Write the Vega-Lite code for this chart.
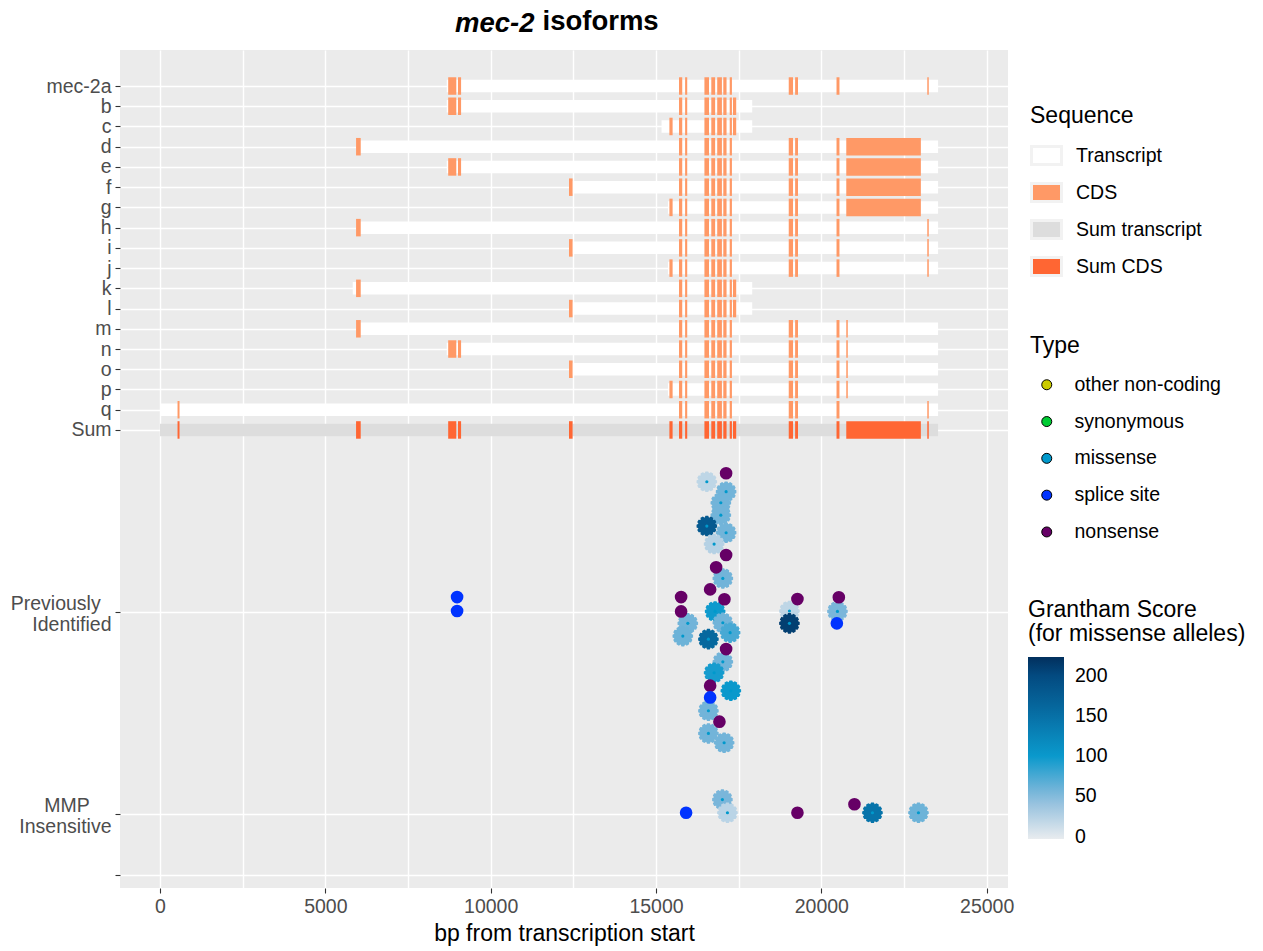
{
  "$schema": "https://vega.github.io/schema/vega-lite/v6.json",
  "width": 888,
  "height": 838,
  "autosize": {"type": "none"},
  "padding": {"left": 120, "top": 50, "right": 255, "bottom": 63},
  "background": "white",
  "config": {
    "font": "Liberation Sans",
    "view": {"fill": "#EBEBEB", "stroke": null},
    "axis": {
      "gridColor": "white", "gridWidth": 1.4, "gridOpacity": 1, "domain": false,
      "tickColor": "#333333", "tickSize": 5, "tickWidth": 1.1,
      "labelColor": "#4D4D4D", "labelFont": "Liberation Sans", "labelFontSize": 19.5,
      "titleFont": "Liberation Sans", "titleFontWeight": "normal", "titleColor": "black", "titleFontSize": 23
    },
    "legend": {
      "orient": "none", "padding": 0,
      "titleFont": "Liberation Sans", "titleFontSize": 23, "titleFontWeight": "normal", "titleColor": "black", "titleLimit": 400,
      "labelFont": "Liberation Sans", "labelFontSize": 19.5, "labelColor": "black", "labelLimit": 300
    }
  },
  "title": {
    "text": "mec-2",
    "anchor": "start", "frame": "group", "dx": 335, "offset": -52, "baseline": "alphabetic",
    "font": "Liberation Sans", "fontSize": 27.5, "fontStyle": "italic", "fontWeight": "bold", "color": "black"
  },
  "datasets": {
    "tx": [
      {"y": 1, "x": 8672, "e": 23530, "t": "Transcript"},
      {"y": 2, "x": 8672, "e": 17910, "t": "Transcript"},
      {"y": 3, "x": 15167, "e": 17910, "t": "Transcript"},
      {"y": 4, "x": 5929, "e": 23530, "t": "Transcript"},
      {"y": 5, "x": 8672, "e": 23530, "t": "Transcript"},
      {"y": 6, "x": 12368, "e": 23530, "t": "Transcript"},
      {"y": 7, "x": 15360, "e": 23530, "t": "Transcript"},
      {"y": 8, "x": 5929, "e": 23530, "t": "Transcript"},
      {"y": 9, "x": 12368, "e": 23530, "t": "Transcript"},
      {"y": 10, "x": 15360, "e": 23530, "t": "Transcript"},
      {"y": 11, "x": 5828, "e": 17910, "t": "Transcript"},
      {"y": 12, "x": 12368, "e": 17910, "t": "Transcript"},
      {"y": 13, "x": 5929, "e": 23530, "t": "Transcript"},
      {"y": 14, "x": 8672, "e": 23530, "t": "Transcript"},
      {"y": 15, "x": 12368, "e": 23530, "t": "Transcript"},
      {"y": 16, "x": 15360, "e": 23530, "t": "Transcript"},
      {"y": 17, "x": 0, "e": 23530, "t": "Transcript"},
      {"y": 18, "x": 0, "e": 23530, "t": "Sum transcript"}
    ],
    "cds": [
      {"y":1,"x":8715,"e":8960,"t":"CDS"},{"y":1,"x":9012,"e":9105,"t":"CDS"},
      {"y":1,"x":15696,"e":15793,"t":"CDS"},{"y":1,"x":15880,"e":15944,"t":"CDS"},{"y":1,"x":16464,"e":16603,"t":"CDS"},{"y":1,"x":16672,"e":16788,"t":"CDS"},{"y":1,"x":16851,"e":16993,"t":"CDS"},{"y":1,"x":17035,"e":17133,"t":"CDS"},{"y":1,"x":17229,"e":17296,"t":"CDS"},
      {"y":1,"x":19014,"e":19144,"t":"CDS"},{"y":1,"x":19207,"e":19295,"t":"CDS"},{"y":1,"x":20459,"e":20548,"t":"CDS"},
      {"y":1,"x":23204,"e":23249,"t":"CDS"},

      {"y":2,"x":8715,"e":8960,"t":"CDS"},{"y":2,"x":9012,"e":9105,"t":"CDS"},
      {"y":2,"x":15696,"e":15793,"t":"CDS"},{"y":2,"x":15880,"e":15944,"t":"CDS"},{"y":2,"x":16464,"e":16603,"t":"CDS"},{"y":2,"x":16672,"e":16788,"t":"CDS"},{"y":2,"x":16851,"e":16993,"t":"CDS"},{"y":2,"x":17035,"e":17133,"t":"CDS"},{"y":2,"x":17229,"e":17296,"t":"CDS"},
      {"y":2,"x":17329,"e":17425,"t":"CDS"},

      {"y":3,"x":15405,"e":15502,"t":"CDS"},
      {"y":3,"x":15696,"e":15793,"t":"CDS"},{"y":3,"x":15880,"e":15944,"t":"CDS"},{"y":3,"x":16464,"e":16603,"t":"CDS"},{"y":3,"x":16672,"e":16788,"t":"CDS"},{"y":3,"x":16851,"e":16993,"t":"CDS"},{"y":3,"x":17035,"e":17133,"t":"CDS"},{"y":3,"x":17229,"e":17296,"t":"CDS"},
      {"y":3,"x":17329,"e":17425,"t":"CDS"},

      {"y":4,"x":5929,"e":6070,"t":"CDS"},
      {"y":4,"x":15696,"e":15793,"t":"CDS"},{"y":4,"x":15880,"e":15944,"t":"CDS"},{"y":4,"x":16464,"e":16603,"t":"CDS"},{"y":4,"x":16672,"e":16788,"t":"CDS"},{"y":4,"x":16851,"e":16993,"t":"CDS"},{"y":4,"x":17035,"e":17133,"t":"CDS"},{"y":4,"x":17229,"e":17296,"t":"CDS"},
      {"y":4,"x":19014,"e":19144,"t":"CDS"},{"y":4,"x":19207,"e":19295,"t":"CDS"},{"y":4,"x":20459,"e":20548,"t":"CDS"},
      {"y":4,"x":20754,"e":23010,"t":"CDS"},

      {"y":5,"x":8715,"e":8960,"t":"CDS"},{"y":5,"x":9012,"e":9105,"t":"CDS"},
      {"y":5,"x":15696,"e":15793,"t":"CDS"},{"y":5,"x":15880,"e":15944,"t":"CDS"},{"y":5,"x":16464,"e":16603,"t":"CDS"},{"y":5,"x":16672,"e":16788,"t":"CDS"},{"y":5,"x":16851,"e":16993,"t":"CDS"},{"y":5,"x":17035,"e":17133,"t":"CDS"},{"y":5,"x":17229,"e":17296,"t":"CDS"},
      {"y":5,"x":19014,"e":19144,"t":"CDS"},{"y":5,"x":19207,"e":19295,"t":"CDS"},{"y":5,"x":20459,"e":20548,"t":"CDS"},
      {"y":5,"x":20754,"e":23010,"t":"CDS"},

      {"y":6,"x":12368,"e":12477,"t":"CDS"},
      {"y":6,"x":15696,"e":15793,"t":"CDS"},{"y":6,"x":15880,"e":15944,"t":"CDS"},{"y":6,"x":16464,"e":16603,"t":"CDS"},{"y":6,"x":16672,"e":16788,"t":"CDS"},{"y":6,"x":16851,"e":16993,"t":"CDS"},{"y":6,"x":17035,"e":17133,"t":"CDS"},{"y":6,"x":17229,"e":17296,"t":"CDS"},
      {"y":6,"x":19014,"e":19144,"t":"CDS"},{"y":6,"x":19207,"e":19295,"t":"CDS"},{"y":6,"x":20459,"e":20548,"t":"CDS"},
      {"y":6,"x":20754,"e":23010,"t":"CDS"},

      {"y":7,"x":15405,"e":15502,"t":"CDS"},
      {"y":7,"x":15696,"e":15793,"t":"CDS"},{"y":7,"x":15880,"e":15944,"t":"CDS"},{"y":7,"x":16464,"e":16603,"t":"CDS"},{"y":7,"x":16672,"e":16788,"t":"CDS"},{"y":7,"x":16851,"e":16993,"t":"CDS"},{"y":7,"x":17035,"e":17133,"t":"CDS"},{"y":7,"x":17229,"e":17296,"t":"CDS"},
      {"y":7,"x":19014,"e":19144,"t":"CDS"},{"y":7,"x":19207,"e":19295,"t":"CDS"},{"y":7,"x":20459,"e":20548,"t":"CDS"},
      {"y":7,"x":20754,"e":23010,"t":"CDS"},

      {"y":8,"x":5929,"e":6070,"t":"CDS"},
      {"y":8,"x":15696,"e":15793,"t":"CDS"},{"y":8,"x":15880,"e":15944,"t":"CDS"},{"y":8,"x":16464,"e":16603,"t":"CDS"},{"y":8,"x":16672,"e":16788,"t":"CDS"},{"y":8,"x":16851,"e":16993,"t":"CDS"},{"y":8,"x":17035,"e":17133,"t":"CDS"},{"y":8,"x":17229,"e":17296,"t":"CDS"},
      {"y":8,"x":19014,"e":19144,"t":"CDS"},{"y":8,"x":19207,"e":19295,"t":"CDS"},{"y":8,"x":20459,"e":20548,"t":"CDS"},
      {"y":8,"x":23204,"e":23249,"t":"CDS"},

      {"y":9,"x":12368,"e":12477,"t":"CDS"},
      {"y":9,"x":15696,"e":15793,"t":"CDS"},{"y":9,"x":15880,"e":15944,"t":"CDS"},{"y":9,"x":16464,"e":16603,"t":"CDS"},{"y":9,"x":16672,"e":16788,"t":"CDS"},{"y":9,"x":16851,"e":16993,"t":"CDS"},{"y":9,"x":17035,"e":17133,"t":"CDS"},{"y":9,"x":17229,"e":17296,"t":"CDS"},
      {"y":9,"x":19014,"e":19144,"t":"CDS"},{"y":9,"x":19207,"e":19295,"t":"CDS"},{"y":9,"x":20459,"e":20548,"t":"CDS"},
      {"y":9,"x":23204,"e":23249,"t":"CDS"},

      {"y":10,"x":15405,"e":15502,"t":"CDS"},
      {"y":10,"x":15696,"e":15793,"t":"CDS"},{"y":10,"x":15880,"e":15944,"t":"CDS"},{"y":10,"x":16464,"e":16603,"t":"CDS"},{"y":10,"x":16672,"e":16788,"t":"CDS"},{"y":10,"x":16851,"e":16993,"t":"CDS"},{"y":10,"x":17035,"e":17133,"t":"CDS"},{"y":10,"x":17229,"e":17296,"t":"CDS"},
      {"y":10,"x":19014,"e":19144,"t":"CDS"},{"y":10,"x":19207,"e":19295,"t":"CDS"},{"y":10,"x":20459,"e":20548,"t":"CDS"},
      {"y":10,"x":23204,"e":23249,"t":"CDS"},

      {"y":11,"x":5929,"e":6070,"t":"CDS"},
      {"y":11,"x":15696,"e":15793,"t":"CDS"},{"y":11,"x":15880,"e":15944,"t":"CDS"},{"y":11,"x":16464,"e":16603,"t":"CDS"},{"y":11,"x":16672,"e":16788,"t":"CDS"},{"y":11,"x":16851,"e":16993,"t":"CDS"},{"y":11,"x":17035,"e":17133,"t":"CDS"},{"y":11,"x":17229,"e":17296,"t":"CDS"},
      {"y":11,"x":17329,"e":17425,"t":"CDS"},

      {"y":12,"x":12368,"e":12477,"t":"CDS"},
      {"y":12,"x":15696,"e":15793,"t":"CDS"},{"y":12,"x":15880,"e":15944,"t":"CDS"},{"y":12,"x":16464,"e":16603,"t":"CDS"},{"y":12,"x":16672,"e":16788,"t":"CDS"},{"y":12,"x":16851,"e":16993,"t":"CDS"},{"y":12,"x":17035,"e":17133,"t":"CDS"},{"y":12,"x":17229,"e":17296,"t":"CDS"},
      {"y":12,"x":17329,"e":17425,"t":"CDS"},

      {"y":13,"x":5929,"e":6070,"t":"CDS"},
      {"y":13,"x":15696,"e":15793,"t":"CDS"},{"y":13,"x":15880,"e":15944,"t":"CDS"},{"y":13,"x":16464,"e":16603,"t":"CDS"},{"y":13,"x":16672,"e":16788,"t":"CDS"},{"y":13,"x":16851,"e":16993,"t":"CDS"},{"y":13,"x":17035,"e":17133,"t":"CDS"},{"y":13,"x":17229,"e":17296,"t":"CDS"},
      {"y":13,"x":19014,"e":19144,"t":"CDS"},{"y":13,"x":19207,"e":19295,"t":"CDS"},{"y":13,"x":20459,"e":20548,"t":"CDS"},
      {"y":13,"x":20754,"e":20800,"t":"CDS"},

      {"y":14,"x":8715,"e":8960,"t":"CDS"},{"y":14,"x":9012,"e":9105,"t":"CDS"},
      {"y":14,"x":15696,"e":15793,"t":"CDS"},{"y":14,"x":15880,"e":15944,"t":"CDS"},{"y":14,"x":16464,"e":16603,"t":"CDS"},{"y":14,"x":16672,"e":16788,"t":"CDS"},{"y":14,"x":16851,"e":16993,"t":"CDS"},{"y":14,"x":17035,"e":17133,"t":"CDS"},{"y":14,"x":17229,"e":17296,"t":"CDS"},
      {"y":14,"x":19014,"e":19144,"t":"CDS"},{"y":14,"x":19207,"e":19295,"t":"CDS"},{"y":14,"x":20459,"e":20548,"t":"CDS"},
      {"y":14,"x":20754,"e":20800,"t":"CDS"},

      {"y":15,"x":12368,"e":12477,"t":"CDS"},
      {"y":15,"x":15696,"e":15793,"t":"CDS"},{"y":15,"x":15880,"e":15944,"t":"CDS"},{"y":15,"x":16464,"e":16603,"t":"CDS"},{"y":15,"x":16672,"e":16788,"t":"CDS"},{"y":15,"x":16851,"e":16993,"t":"CDS"},{"y":15,"x":17035,"e":17133,"t":"CDS"},{"y":15,"x":17229,"e":17296,"t":"CDS"},
      {"y":15,"x":19014,"e":19144,"t":"CDS"},{"y":15,"x":19207,"e":19295,"t":"CDS"},{"y":15,"x":20459,"e":20548,"t":"CDS"},
      {"y":15,"x":20754,"e":20800,"t":"CDS"},

      {"y":16,"x":15405,"e":15502,"t":"CDS"},
      {"y":16,"x":15696,"e":15793,"t":"CDS"},{"y":16,"x":15880,"e":15944,"t":"CDS"},{"y":16,"x":16464,"e":16603,"t":"CDS"},{"y":16,"x":16672,"e":16788,"t":"CDS"},{"y":16,"x":16851,"e":16993,"t":"CDS"},{"y":16,"x":17035,"e":17133,"t":"CDS"},{"y":16,"x":17229,"e":17296,"t":"CDS"},
      {"y":16,"x":19014,"e":19144,"t":"CDS"},{"y":16,"x":19207,"e":19295,"t":"CDS"},{"y":16,"x":20459,"e":20548,"t":"CDS"},
      {"y":16,"x":20754,"e":20800,"t":"CDS"},

      {"y":17,"x":530,"e":590,"t":"CDS"},
      {"y":17,"x":15696,"e":15793,"t":"CDS"},{"y":17,"x":15880,"e":15944,"t":"CDS"},{"y":17,"x":16464,"e":16603,"t":"CDS"},{"y":17,"x":16672,"e":16788,"t":"CDS"},{"y":17,"x":16851,"e":16993,"t":"CDS"},{"y":17,"x":17035,"e":17133,"t":"CDS"},{"y":17,"x":17229,"e":17296,"t":"CDS"},
      {"y":17,"x":19014,"e":19144,"t":"CDS"},{"y":17,"x":19207,"e":19295,"t":"CDS"},{"y":17,"x":20459,"e":20548,"t":"CDS"},
      {"y":17,"x":23204,"e":23249,"t":"CDS"},

      {"y":18,"x":530,"e":590,"t":"Sum CDS"},{"y":18,"x":5929,"e":6070,"t":"Sum CDS"},
      {"y":18,"x":8715,"e":8960,"t":"Sum CDS"},{"y":18,"x":9012,"e":9105,"t":"Sum CDS"},
      {"y":18,"x":12368,"e":12477,"t":"Sum CDS"},{"y":18,"x":15405,"e":15502,"t":"Sum CDS"},
      {"y":18,"x":15696,"e":15793,"t":"Sum CDS"},{"y":18,"x":15880,"e":15944,"t":"Sum CDS"},{"y":18,"x":16464,"e":16603,"t":"Sum CDS"},{"y":18,"x":16672,"e":16788,"t":"Sum CDS"},{"y":18,"x":16851,"e":16993,"t":"Sum CDS"},{"y":18,"x":17035,"e":17133,"t":"Sum CDS"},{"y":18,"x":17229,"e":17296,"t":"Sum CDS"},
      {"y":18,"x":17329,"e":17425,"t":"Sum CDS"},
      {"y":18,"x":19014,"e":19144,"t":"Sum CDS"},{"y":18,"x":19207,"e":19295,"t":"Sum CDS"},{"y":18,"x":20459,"e":20548,"t":"Sum CDS"},
      {"y":18,"x":20754,"e":23010,"t":"Sum CDS"},{"y":18,"x":23204,"e":23249,"t":"Sum CDS"}
    ],
    "vars": [
      {"x": 17120, "y": 20.14, "type": "nonsense"},
      {"x": 16537, "y": 20.56, "type": "missense", "g": 20},
      {"x": 17120, "y": 21.05, "type": "missense", "g": 58},
      {"x": 16960, "y": 21.60, "type": "missense", "g": 58},
      {"x": 16960, "y": 22.21, "type": "missense", "g": 58},
      {"x": 16537, "y": 22.75, "type": "missense", "g": 180},
      {"x": 17120, "y": 23.08, "type": "missense", "g": 58},
      {"x": 16757, "y": 23.64, "type": "missense", "g": 25},
      {"x": 17120, "y": 24.18, "type": "nonsense"},
      {"x": 16818, "y": 24.79, "type": "nonsense"},
      {"x": 17021, "y": 25.34, "type": "missense", "g": 58},
      {"x": 16637, "y": 25.88, "type": "nonsense"},
      {"x": 15759, "y": 26.26, "type": "nonsense"},
      {"x": 17069, "y": 26.37, "type": "nonsense"},
      {"x": 19277, "y": 26.36, "type": "nonsense"},
      {"x": 20529, "y": 26.27, "type": "nonsense"},
      {"x": 19035, "y": 26.95, "type": "missense", "g": 20},
      {"x": 20487, "y": 26.97, "type": "missense", "g": 55},
      {"x": 16788, "y": 26.97, "type": "missense", "g": 98},
      {"x": 15759, "y": 26.97, "type": "nonsense"},
      {"x": 19035, "y": 27.56, "type": "missense", "g": 210},
      {"x": 20469, "y": 27.56, "type": "splice site"},
      {"x": 15962, "y": 27.56, "type": "missense", "g": 58},
      {"x": 17021, "y": 27.53, "type": "missense", "g": 58},
      {"x": 17241, "y": 28.02, "type": "missense", "g": 75},
      {"x": 15811, "y": 28.19, "type": "missense", "g": 60},
      {"x": 16585, "y": 28.34, "type": "missense", "g": 160},
      {"x": 17120, "y": 28.83, "type": "nonsense"},
      {"x": 17021, "y": 29.46, "type": "missense", "g": 58},
      {"x": 16757, "y": 30.0, "type": "missense", "g": 95},
      {"x": 16637, "y": 30.64, "type": "nonsense"},
      {"x": 17263, "y": 30.89, "type": "missense", "g": 100},
      {"x": 16637, "y": 31.22, "type": "splice site"},
      {"x": 16585, "y": 31.88, "type": "missense", "g": 58},
      {"x": 16918, "y": 32.42, "type": "nonsense"},
      {"x": 16585, "y": 33.0, "type": "missense", "g": 58},
      {"x": 17060, "y": 33.46, "type": "missense", "g": 58},
      {"x": 8984, "y": 26.26, "type": "splice site"},
      {"x": 8984, "y": 26.95, "type": "splice site"},
      {"x": 15910, "y": 36.92, "type": "splice site"},
      {"x": 17008, "y": 36.27, "type": "missense", "g": 55},
      {"x": 17160, "y": 36.92, "type": "missense", "g": 22},
      {"x": 19277, "y": 36.92, "type": "nonsense"},
      {"x": 21001, "y": 36.5, "type": "nonsense"},
      {"x": 21546, "y": 36.92, "type": "missense", "g": 145},
      {"x": 22937, "y": 36.92, "type": "missense", "g": 60}
    ]
  },
  "encoding": {
    "x": {
      "field": "x", "type": "quantitative",
      "scale": {"domain": [-1210, 25645], "nice": false, "zero": false, "padding": 0},
      "axis": {
        "title": "bp from transcription start",
        "values": [0, 2500, 5000, 7500, 10000, 12500, 15000, 17500, 20000, 22500, 25000],
        "labelExpr": "datum.value % 5000 === 0 ? format(datum.value, 'd') : ''",
        "tickOpacity": {"condition": {"test": "datum.value % 5000 !== 0", "value": 0}, "value": 1},
        "labelFlush": false, "labelOverlap": false, "labelPadding": 4, "titlePadding": 7
      }
    },
    "y": {
      "field": "y", "type": "quantitative",
      "scale": {"domain": [-0.78, 40.64], "nice": false, "zero": false, "reverse": true, "padding": 0},
      "axis": {
        "title": "isoforms", "titleAngle": 0, "titleX": 422, "titleY": -21,
        "titleAlign": "left", "titleBaseline": "alphabetic",
        "titleFontSize": 27.5, "titleFontWeight": "bold", "titleColor": "black",
        "values": [1, 2, 3, 4, 5, 6, 7, 8, 9, 10, 11, 12, 13, 14, 15, 16, 17, 18, 27, 37, 40],
        "labelExpr": "datum.value == 27 ? ['Previously\u00a0\u00a0\u200b', 'Identified'] : datum.value == 37 ? ['MMP\u00a0\u00a0\u00a0\u00a0\u200b', 'Insensitive'] : datum.value > 18 ? '' : ['', 'mec-2a', 'b', 'c', 'd', 'e', 'f', 'g', 'h', 'i', 'j', 'k', 'l', 'm', 'n', 'o', 'p', 'q', 'Sum'][datum.value]",
        "labelOffset": {"condition": {"test": "datum.value == 27 || datum.value == 37", "value": -9}, "value": 0},
        "labelFlush": false, "labelOverlap": false, "labelBound": false,
        "labelPadding": 4, "labelLineHeight": 21
      }
    }
  },
  "layer": [
    {
      "data": {"name": "tx"},
      "mark": {"type": "bar", "orient": "horizontal", "size": 12.5},
      "encoding": {
        "x2": {"field": "e"},
        "color": {
          "field": "t", "type": "nominal",
          "scale": {"domain": ["Transcript", "CDS", "Sum transcript", "Sum CDS"], "range": ["#FFFFFF", "#FF9966", "#DDDDDD", "#FF6633"]},
          "legend": {
            "title": "Sequence", "legendX": 910, "legendY": 55,
            "symbolType": "M-1,-0.6H1V0.6H-1Z", "symbolSize": 900,
            "symbolStrokeColor": "#F2F2F2", "symbolStrokeWidth": 3,
            "rowPadding": 5, "titlePadding": 11, "labelOffset": 13,
            "encode": {"symbols": {"update": {"stroke": {"value": "#F2F2F2"}, "strokeWidth": {"value": 3}, "opacity": {"value": 1}}}}
          }
        }
      }
    },
    {
      "data": {"name": "cds"},
      "mark": {"type": "bar", "orient": "horizontal", "size": 17.5},
      "encoding": {
        "x2": {"field": "e"},
        "color": {
          "field": "t", "type": "nominal",
          "scale": {"domain": ["Transcript", "CDS", "Sum transcript", "Sum CDS"], "range": ["#FFFFFF", "#FF9966", "#DDDDDD", "#FF6633"]},
          "legend": null
        }
      }
    },
    {
      "data": {"name": "vars"},
      "transform": [{"filter": "datum.type === 'missense'"}],
      "mark": {
        "type": "point", "filled": true, "size": 430, "opacity": 1, "strokeWidth": 0,
        "shape": "M0.991,-0.131L0.991,0.131L0.811,0.217L0.924,0.383L0.793,0.609L0.594,0.594L0.609,0.793L0.383,0.924L0.217,0.811L0.131,0.991L-0.131,0.991L-0.217,0.811L-0.383,0.924L-0.609,0.793L-0.594,0.594L-0.793,0.609L-0.924,0.383L-0.811,0.217L-0.991,0.131L-0.991,-0.131L-0.811,-0.217L-0.924,-0.383L-0.793,-0.609L-0.594,-0.594L-0.609,-0.793L-0.383,-0.924L-0.217,-0.811L-0.131,-0.991L0.131,-0.991L0.217,-0.811L0.383,-0.924L0.609,-0.793L0.594,-0.594L0.793,-0.609L0.924,-0.383L0.811,-0.217Z"
      },
      "encoding": {
        "fill": {
          "field": "g", "type": "quantitative",
          "scale": {"domain": [-3, 50, 100, 150, 200, 223], "range": ["#E9ECEF", "#86B9DB", "#0A99CC", "#0770A6", "#034A80", "#02305D"], "interpolate": "rgb", "nice": false, "zero": false},
          "legend": {
            "type": "gradient",
            "title": ["Grantham Score", "(for missense alleles)"], "titleLineHeight": 24,
            "legendX": 908, "legendY": 549, "direction": "vertical",
            "gradientLength": 182, "gradientThickness": 36, "gradientStrokeWidth": 0,
            "values": [0, 50, 100, 150, 200], "labelOffset": 11, "titlePadding": 11
          }
        }
      }
    },
    {
      "data": {"name": "vars"},
      "transform": [{"filter": "datum.type !== 'missense'"}],
      "mark": {"type": "point", "filled": true, "shape": "circle", "size": 160, "opacity": 1},
      "encoding": {
        "color": {
          "field": "type", "type": "nominal",
          "scale": {"domain": ["other non-coding", "synonymous", "missense", "splice site", "nonsense"], "range": ["#CCCC00", "#00CC33", "#0099CC", "#0033FF", "#660066"]},
          "legend": {
            "title": "Type", "legendX": 910, "legendY": 285,
            "symbolType": "circle", "symbolSize": 100, "symbolOffset": 7,
            "symbolStrokeColor": "black", "symbolStrokeWidth": 1,
            "rowPadding": 15.8, "titlePadding": 17, "labelOffset": 18,
            "encode": {"symbols": {"update": {"stroke": {"value": "black"}, "strokeWidth": {"value": 1}, "opacity": {"value": 1}}}}
          }
        }
      }
    },
    {
      "data": {"name": "vars"},
      "transform": [{"filter": "datum.type === 'missense'"}],
      "mark": {"type": "point", "filled": true, "shape": "circle", "size": 10, "opacity": 1},
      "encoding": {
        "color": {
          "field": "type", "type": "nominal",
          "scale": {"domain": ["other non-coding", "synonymous", "missense", "splice site", "nonsense"], "range": ["#CCCC00", "#00CC33", "#0099CC", "#0033FF", "#660066"]},
          "legend": null
        }
      }
    }
  ],
  "resolve": {"scale": {"color": "independent"}}
}
